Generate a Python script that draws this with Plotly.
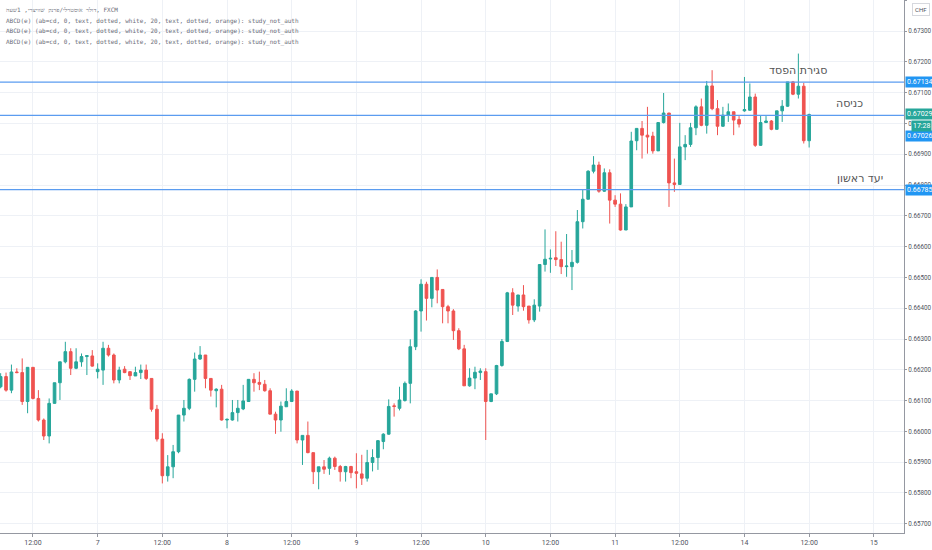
import plotly.graph_objects as go

# AUD/CHF hourly candles (bar index 0..150)
OPEN = [
    0.66145, 0.66178, 0.66134, 0.66193, 0.66191, 0.66097, 0.66208, 0.66107, 0.66037, 0.65985,
    0.66091, 0.66158, 0.66226, 0.66259, 0.66205, 0.66226, 0.66243, 0.66245, 0.66194, 0.66199,
    0.66270, 0.66248, 0.66167, 0.66202, 0.66194, 0.66180, 0.66191, 0.66199, 0.66172, 0.66072,
    0.65975, 0.65856, 0.65885, 0.65934, 0.66053, 0.66075, 0.66169, 0.66235, 0.66248, 0.66172,
    0.66132, 0.66137, 0.66037, 0.66037, 0.66061, 0.66073, 0.66097, 0.66169, 0.66159, 0.66153,
    0.66132, 0.66056, 0.66037, 0.66080, 0.66097, 0.66131, 0.65972, 0.65987, 0.65931, 0.65869,
    0.65885, 0.65880, 0.65913, 0.65886, 0.65869, 0.65886, 0.65869, 0.65862, 0.65848, 0.65899,
    0.65915, 0.65967, 0.65991, 0.66083, 0.66075, 0.66100, 0.66156, 0.66275, 0.66391, 0.66478,
    0.66432, 0.66500, 0.66461, 0.66405, 0.66391, 0.66327, 0.66268, 0.66148, 0.66173, 0.66191,
    0.66194, 0.66097, 0.66122, 0.66214, 0.66292, 0.66450, 0.66407, 0.66443, 0.66407, 0.66362,
    0.66407, 0.66542, 0.66560, 0.66564, 0.66558, 0.66535, 0.66535, 0.66549, 0.66681, 0.66754,
    0.66845, 0.66865, 0.66780, 0.66840, 0.66751, 0.66738, 0.66654, 0.66729, 0.66944, 0.66984,
    0.66962, 0.66959, 0.66911, 0.67003, 0.67034, 0.66807, 0.66802, 0.66924, 0.66932, 0.66986,
    0.67054, 0.66994, 0.67122, 0.67048, 0.66991, 0.67027, 0.67038, 0.67013, 0.67041, 0.67043,
    0.67086, 0.66929, 0.67003, 0.67008, 0.66981, 0.67041, 0.67056, 0.67135, 0.67095, 0.67121,
    0.66944,
]
HIGH = [
    0.66189, 0.66191, 0.66217, 0.66205, 0.66237, 0.66208, 0.66208, 0.66134, 0.66042, 0.66107,
    0.66158, 0.66226, 0.66291, 0.66270, 0.66270, 0.66253, 0.66248, 0.66264, 0.66221, 0.66291,
    0.66281, 0.66253, 0.66210, 0.66212, 0.66194, 0.66210, 0.66217, 0.66217, 0.66172, 0.66086,
    0.65994, 0.65923, 0.65956, 0.66053, 0.66102, 0.66172, 0.66256, 0.66277, 0.66248, 0.66172,
    0.66140, 0.66151, 0.66042, 0.66102, 0.66102, 0.66151, 0.66169, 0.66189, 0.66194, 0.66167,
    0.66140, 0.66064, 0.66097, 0.66140, 0.66137, 0.66131, 0.65987, 0.66032, 0.65931, 0.65885,
    0.65907, 0.65918, 0.65918, 0.65891, 0.65888, 0.65888, 0.65929, 0.65924, 0.65940, 0.65942,
    0.65972, 0.65994, 0.66104, 0.66091, 0.66145, 0.66162, 0.66299, 0.66394, 0.66494, 0.66486,
    0.66500, 0.66526, 0.66461, 0.66411, 0.66397, 0.66335, 0.66281, 0.66205, 0.66210, 0.66205,
    0.66205, 0.66122, 0.66216, 0.66300, 0.66453, 0.66465, 0.66443, 0.66475, 0.66407, 0.66429,
    0.66542, 0.66656, 0.66591, 0.66650, 0.66616, 0.66641, 0.66589, 0.66719, 0.66784, 0.66848,
    0.66894, 0.66876, 0.66854, 0.66851, 0.66767, 0.66773, 0.66738, 0.66973, 0.66984, 0.67008,
    0.67054, 0.66973, 0.67003, 0.67099, 0.67034, 0.66886, 0.67002, 0.66962, 0.67002, 0.67059,
    0.67081, 0.67138, 0.67173, 0.67076, 0.67054, 0.67065, 0.67038, 0.67024, 0.67151, 0.67130,
    0.67097, 0.67027, 0.67024, 0.67011, 0.67041, 0.67076, 0.67135, 0.67138, 0.67227, 0.67132,
    0.67032,
]
LOW = [
    0.66140, 0.66129, 0.66124, 0.66189, 0.66086, 0.66059, 0.66104, 0.66032, 0.65972, 0.65961,
    0.66090, 0.66102, 0.66221, 0.66183, 0.66202, 0.66210, 0.66183, 0.66210, 0.66172, 0.66151,
    0.66243, 0.66156, 0.66156, 0.66189, 0.66167, 0.66180, 0.66170, 0.66167, 0.66064, 0.65967,
    0.65831, 0.65837, 0.65848, 0.65929, 0.66032, 0.66069, 0.66129, 0.66232, 0.66140, 0.66113,
    0.66078, 0.66035, 0.66010, 0.66035, 0.66032, 0.66069, 0.66097, 0.66129, 0.66134, 0.66129,
    0.66056, 0.65992, 0.65999, 0.66080, 0.66097, 0.65961, 0.65891, 0.65929, 0.65829, 0.65812,
    0.65862, 0.65859, 0.65875, 0.65837, 0.65837, 0.65848, 0.65815, 0.65826, 0.65837, 0.65870,
    0.65875, 0.65942, 0.65989, 0.66048, 0.66068, 0.66097, 0.66091, 0.66264, 0.66324, 0.66360,
    0.66403, 0.66416, 0.66351, 0.66351, 0.66297, 0.66264, 0.66148, 0.66145, 0.66137, 0.66167,
    0.65972, 0.66095, 0.66118, 0.66210, 0.66290, 0.66378, 0.66389, 0.66392, 0.66350, 0.66355,
    0.66389, 0.66519, 0.66515, 0.66537, 0.66511, 0.66502, 0.66459, 0.66545, 0.66659, 0.66753,
    0.66838, 0.66775, 0.66778, 0.66675, 0.66729, 0.66652, 0.66654, 0.66729, 0.66913, 0.66886,
    0.66902, 0.66902, 0.66911, 0.67000, 0.66729, 0.66778, 0.66802, 0.66881, 0.66924, 0.66962,
    0.66991, 0.66967, 0.67043, 0.66962, 0.66989, 0.67005, 0.66962, 0.66987, 0.67038, 0.67041,
    0.66924, 0.66927, 0.67002, 0.66978, 0.66980, 0.67005, 0.67054, 0.67092, 0.67081, 0.66935,
    0.66922,
]
CLOSE = [
    0.66178, 0.66134, 0.66193, 0.66191, 0.66097, 0.66208, 0.66107, 0.66037, 0.65985, 0.66091,
    0.66158, 0.66226, 0.66259, 0.66205, 0.66226, 0.66243, 0.66246, 0.66212, 0.66202, 0.66270,
    0.66248, 0.66167, 0.66199, 0.66191, 0.66181, 0.66191, 0.66199, 0.66172, 0.66072, 0.65975,
    0.65856, 0.65885, 0.65934, 0.66053, 0.66075, 0.66169, 0.66235, 0.66248, 0.66172, 0.66134,
    0.66137, 0.66037, 0.66039, 0.66061, 0.66075, 0.66099, 0.66169, 0.66158, 0.66153, 0.66132,
    0.66056, 0.66037, 0.66082, 0.66097, 0.66131, 0.65972, 0.65987, 0.65931, 0.65869, 0.65885,
    0.65877, 0.65913, 0.65886, 0.65869, 0.65886, 0.65866, 0.65864, 0.65848, 0.65899, 0.65915,
    0.65970, 0.65991, 0.66081, 0.66081, 0.66102, 0.66156, 0.66275, 0.66391, 0.66478, 0.66432,
    0.66500, 0.66459, 0.66405, 0.66391, 0.66327, 0.66268, 0.66148, 0.66173, 0.66192, 0.66196,
    0.66097, 0.66122, 0.66214, 0.66292, 0.66450, 0.66410, 0.66443, 0.66405, 0.66362, 0.66410,
    0.66542, 0.66559, 0.66562, 0.66558, 0.66535, 0.66537, 0.66549, 0.66681, 0.66754, 0.66845,
    0.66865, 0.66780, 0.66840, 0.66751, 0.66738, 0.66654, 0.66729, 0.66943, 0.66984, 0.66962,
    0.66956, 0.66911, 0.67003, 0.67034, 0.66807, 0.66802, 0.66924, 0.66932, 0.66986, 0.67054,
    0.66994, 0.67122, 0.67048, 0.66991, 0.67027, 0.67038, 0.67011, 0.66998, 0.67045, 0.67086,
    0.66929, 0.67003, 0.67008, 0.66981, 0.67041, 0.67056, 0.67135, 0.67095, 0.67121, 0.66944,
    0.67029,
]
BAR_INDEX = list(range(len(OPEN)))

# time axis labels (one every 12 hourly bars)
TICK_POS = [6, 18, 30, 42, 54, 66, 78, 90, 102, 114, 126, 138, 150, 162]
TICK_TEXT = ["12:00", "7", "12:00", "8", "12:00", "9", "12:00", "10",
             "12:00", "11", "12:00", "14", "12:00", "15"]

# trade levels drawn by the author
LEVELS = [0.67134, 0.67026, 0.66785]
LEVEL_NAMES = ["סגירת הפסד", "כניסה", "יעד ראשון"]
LAST_PRICE = 0.67029
COUNTDOWN = "17:28"

HEADER_LINES = [
    "דולר אוסטרלי/פרנק שוויצרי, 1שעה, FXCM",
    "ABCD(e) (ab=cd, 0, text, dotted, white, 20, text, dotted, orange): study_not_auth",
    "ABCD(e) (ab=cd, 0, text, dotted, white, 20, text, dotted, orange): study_not_auth",
    "ABCD(e) (ab=cd, 0, text, dotted, white, 20, text, dotted, orange): study_not_auth",
]

UP = "#26a69a"
DOWN = "#ef5350"
LINE_BLUE = "#5b9cf0"
LABEL_BLUE = "#2196f3"
GRID = "#eef1f6"
AXIS_TXT = "#50535e"
SCALE_FONT = "Liberation Sans Narrow, Roboto, sans-serif"

fig = go.Figure()
fig.add_trace(
    go.Candlestick(
        x=BAR_INDEX,
        open=OPEN,
        high=HIGH,
        low=LOW,
        close=CLOSE,
        increasing={"line": {"color": UP, "width": 1}, "fillcolor": UP},
        decreasing={"line": {"color": DOWN, "width": 1}, "fillcolor": DOWN},
        whiskerwidth=0,
        hoverinfo="skip",
    )
)

shapes = []
for lvl in LEVELS:
    shapes.append({
        "type": "line", "xref": "paper", "x0": 0, "x1": 1,
        "yref": "y", "y0": lvl, "y1": lvl,
        "line": {"color": LINE_BLUE, "width": 1.2},
    })

annotations = []
# names of the levels, sitting just above each line on the right
name_x = [148, 157.5, 159.5]
for lvl, name, nx in zip(LEVELS, LEVEL_NAMES, name_x):
    annotations.append({
        "x": nx, "y": lvl, "xref": "x", "yref": "y", "text": name,
        "showarrow": False, "yanchor": "bottom", "yshift": 3,
        "font": {"family": "DejaVu Sans", "size": 11, "color": "#555555"},
    })

# price-scale badges (the entry badge is pushed below the last-price badge)
badge_shift = [0, -21, 0]
for lvl, shift in zip(LEVELS, badge_shift):
    annotations.append({
        "x": 1, "y": lvl, "xref": "paper", "yref": "y", "text": f"{lvl:.5f}",
        "showarrow": False, "xanchor": "left", "xshift": 1, "yshift": shift,
        "bgcolor": LABEL_BLUE, "borderpad": 1,
        "font": {"family": SCALE_FONT, "size": 7, "color": "white"},
    })
annotations.append({
    "x": 1, "y": LAST_PRICE, "xref": "paper", "yref": "y", "text": f"{LAST_PRICE:.5f}",
    "showarrow": False, "xanchor": "left", "xshift": 1, "yshift": 1,
    "bgcolor": UP, "borderpad": 1,
    "font": {"family": SCALE_FONT, "size": 7, "color": "white"},
})
annotations.append({
    "x": 1, "y": LAST_PRICE, "xref": "paper", "yref": "y", "text": COUNTDOWN,
    "showarrow": False, "xanchor": "left", "xshift": 7, "yshift": -11.5,
    "bgcolor": UP, "borderpad": 1,
    "font": {"family": SCALE_FONT, "size": 7, "color": "white"},
})
annotations.append({
    "x": 1, "y": 1, "xref": "paper", "yref": "paper", "text": "CHF",
    "showarrow": False, "xanchor": "left", "yanchor": "top", "xshift": 8, "yshift": -3,
    "bordercolor": "#d6d8de", "borderwidth": 1, "borderpad": 2, "bgcolor": "white",
    "font": {"family": SCALE_FONT, "size": 6, "color": AXIS_TXT},
})

# legend text in the top-left corner
for k, line in enumerate(HEADER_LINES):
    annotations.append({
        "x": 0, "y": 1, "xref": "paper", "yref": "paper", "text": line,
        "showarrow": False, "xanchor": "left", "yanchor": "top",
        "xshift": 4, "yshift": -4 - k * 10.7,
        "font": {"family": "DejaVu Sans Mono", "size": 6, "color": "#6a6d78"},
    })

fig.update_layout(
    width=932,
    height=550,
    margin={"l": 0, "r": 28, "t": 0, "b": 17},
    paper_bgcolor="white",
    plot_bgcolor="white",
    showlegend=False,
    shapes=shapes,
    annotations=annotations,
    xaxis={
        "range": [-0.12, 167.6],
        "rangeslider": {"visible": False},
        "automargin": False,
        "tickvals": TICK_POS,
        "ticktext": TICK_TEXT,
        "ticks": "outside",
        "ticklen": 3,
        "tickcolor": "#9598a1",
        "showgrid": True,
        "gridcolor": GRID,
        "showline": True,
        "linecolor": "#9598a1",
        "linewidth": 1,
        "zeroline": False,
        "tickfont": {"family": SCALE_FONT, "size": 7, "color": AXIS_TXT},
    },
    yaxis={
        "side": "right",
        "automargin": False,
        "range": [0.65670, 0.67401],
        "tick0": 0.657,
        "dtick": 0.001,
        "tickformat": ".5f",
        "ticks": "outside",
        "ticklen": 2,
        "tickcolor": "#9598a1",
        "showgrid": True,
        "gridcolor": GRID,
        "showline": True,
        "linecolor": "#9598a1",
        "linewidth": 1,
        "zeroline": False,
        "tickfont": {"family": SCALE_FONT, "size": 6.3, "color": AXIS_TXT},
    },
)

# drop the page's default body margin so the 932x550 figure fills the window
fig.write_html(
    "out.html",
    config={"displayModeBar": False},
    post_script="document.body.style.margin='0';document.body.style.overflow='hidden';",
)
